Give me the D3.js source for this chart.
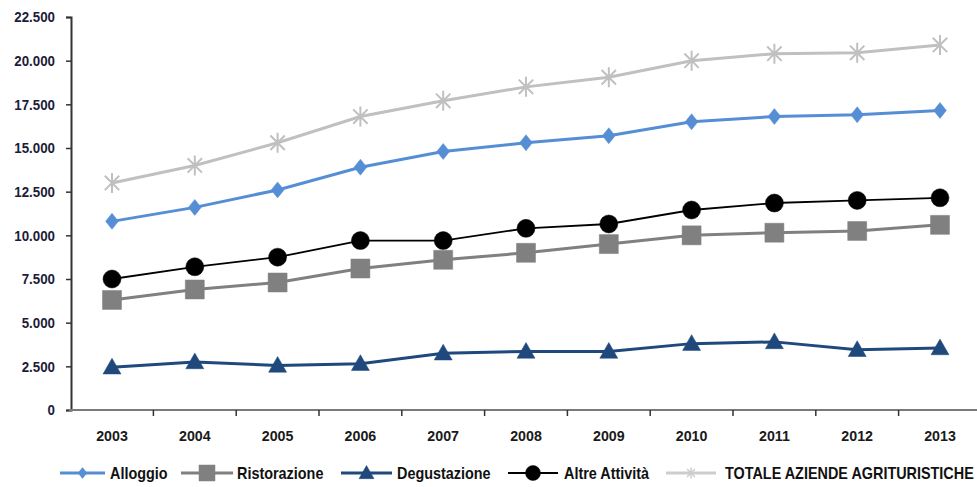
<!DOCTYPE html>
<html><head><meta charset="utf-8">
<script src="https://cdn.jsdelivr.net/npm/d3@7"></script>
<style>
body{margin:0;background:#fff;}
svg text{font-family:"Liberation Sans Narrow","Arial Narrow","Liberation Sans",sans-serif;font-weight:bold;}
</style></head>
<body><svg id="c" width="977" height="487"></svg>
<script>
const years = ["2003","2004","2005","2006","2007","2008","2009","2010","2011","2012","2013"];
const yTicks = [0,2500,5000,7500,10000,12500,15000,17500,20000,22500];
const alloggio = [10800,11600,12600,13900,14800,15300,15700,16500,16800,16900,17150];
const ristorazione = [6300,6900,7300,8100,8600,9000,9500,10000,10150,10250,10600];
const degustazione = [2450,2750,2550,2650,3250,3350,3350,3800,3900,3450,3550];
const altre = [7500,8200,8750,9700,9700,10400,10650,11450,11850,12000,12150];
const totale = [13000,14000,15300,16800,17700,18500,19050,20000,20400,20450,20900];
const seriesNames = ["Alloggio","Ristorazione","Degustazione","Altre Attività","TOTALE AZIENDE AGRITURISTICHE"];

const series = [
  {name:seriesNames[4], values:totale, color:"#C0C0C0", width:3, marker:"star", size:20},
  {name:seriesNames[0], values:alloggio, color:"#558ED5", width:3, marker:"diamond", size:16},
  {name:seriesNames[3], values:altre, color:"#000000", width:1.8, marker:"circle", size:18},
  {name:seriesNames[1], values:ristorazione, color:"#808080", width:3, marker:"square", size:19},
  {name:seriesNames[2], values:degustazione, color:"#1F497D", width:3, marker:"triangle", size:18}
];

const svg = d3.select("#c");
const x = d3.scaleBand().domain(years).range([70.6, 981.4]);
const y = d3.scaleLinear().domain([0,22500]).range([410,17]);
const fmt = v => d3.format(",")(v).replace(/,/g,".");

// axes
const yAxis = svg.append("g").attr("transform","translate(71,0)")
  .call(d3.axisLeft(y).tickValues(yTicks).tickSize(5).tickPadding(12).tickFormat(fmt));
yAxis.select(".domain").attr("stroke","#333").attr("stroke-width",2);
yAxis.selectAll(".tick line").attr("stroke","#333").attr("stroke-width",1.5);
yAxis.selectAll("text").attr("font-size",15.5).attr("fill","#1c1c38")
  .attr("x",0).attr("transform","translate(-16,0) scale(0.86,1)");

const xAxis = svg.append("g").attr("transform","translate(0,410)")
  .call(d3.axisBottom(x).tickSize(0).tickPadding(20));
xAxis.select(".domain").remove();
xAxis.selectAll("text").attr("font-size",15).attr("fill","#1a1a1a")
  .attr("transform","scale(0.95,1)");
svg.append("line").attr("x1",69).attr("x2",977).attr("y1",410).attr("y2",410)
  .attr("stroke","#7a7a7a").attr("stroke-width",2.2);
svg.append("g").selectAll("line").data(years).join("line")
  .attr("x1",d=>x(d)+x.bandwidth()).attr("x2",d=>x(d)+x.bandwidth())
  .attr("y1",410).attr("y2",416).attr("stroke","#333").attr("stroke-width",1.5);

function markerPath(type,size){
  if(type==="diamond") { const s=size/2; return `M0,${-s}L${s*0.8},0L0,${s}L${-s*0.8},0Z`; }
  if(type==="square") { const s=size/2; return `M${-s},${-s}H${s}V${s}H${-s}Z`; }
  if(type==="circle") return d3.symbol(d3.symbolCircle, Math.PI*(size/2)*(size/2))();
  if(type==="triangle") { const s=size/2; return `M0,${-s}L${s},${s*0.75}L${-s},${s*0.75}Z`; }
  if(type==="star") { const s=size/2, d=s*0.72; return `M0,${-s}V${s}M${-d},${-d}L${d},${d}M${-d},${d}L${d},${-d}`; }
}

const line = d3.line().x((d,i)=>x(years[i])+x.bandwidth()/2).y(d=>y(d));
series.forEach(s=>{
  svg.append("path").datum(s.values).attr("d",line).attr("fill","none")
    .attr("stroke",s.color).attr("stroke-width",s.width);
  svg.append("g").selectAll("path").data(s.values).join("path")
    .attr("transform",(d,i)=>`translate(${x(years[i])+x.bandwidth()/2},${y(d)})`)
    .attr("d",markerPath(s.marker,s.size))
    .attr("fill", s.marker==="star" ? "none" : s.color)
    .attr("stroke", s.color).attr("stroke-width", s.marker==="star" ? 2 : 0.5);
});

// legend
const legendItems = [
  {name:seriesNames[0], color:"#558ED5", width:3, marker:"diamond", size:11, x1:60, x2:105, tx:110},
  {name:seriesNames[1], color:"#808080", width:3, marker:"square", size:16, x1:181, x2:233, tx:237},
  {name:seriesNames[2], color:"#1F497D", width:3, marker:"triangle", size:15, x1:341, x2:392, tx:397},
  {name:seriesNames[3], color:"#000000", width:1.8, marker:"circle", size:15, x1:508, x2:558, tx:564},
  {name:seriesNames[4], color:"#CDCDCD", width:3, marker:"star", size:11, x1:666, x2:716, tx:725}
];
const ly = 473;
const lg = svg.append("g");
legendItems.forEach(l=>{
  lg.append("line").attr("x1",l.x1).attr("x2",l.x2).attr("y1",ly).attr("y2",ly)
    .attr("stroke",l.color).attr("stroke-width",l.width);
  lg.append("path").attr("transform",`translate(${(l.x1+l.x2)/2},${ly})`)
    .attr("d",markerPath(l.marker,l.size))
    .attr("fill", l.marker==="star"?"none":l.color).attr("stroke",l.color).attr("stroke-width",l.marker==="star"?1.5:0.5);
  lg.append("text").attr("transform",`translate(${l.tx},${ly}) scale(0.9,1)`).attr("dy","0.36em").attr("font-size",16)
    .attr("fill","#111").text(l.name);
});
</script></body></html>
